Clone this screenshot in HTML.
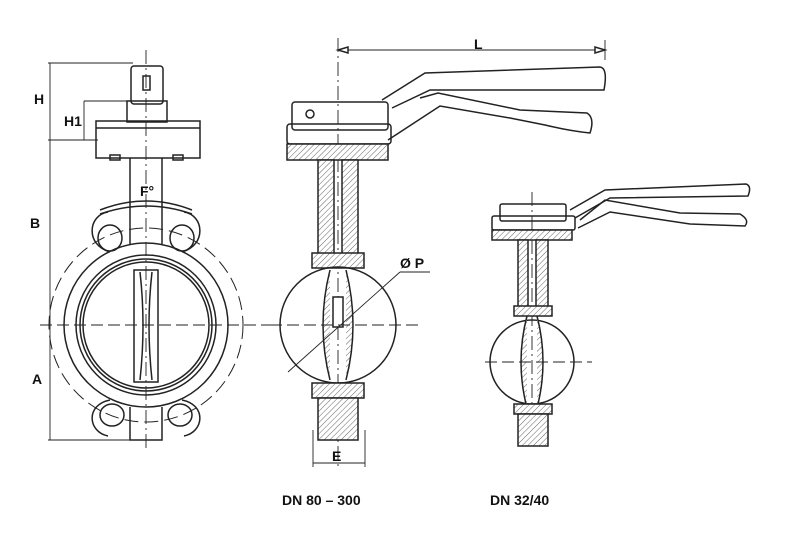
<!DOCTYPE html>
<html><head><meta charset="utf-8"><style>
html,body{margin:0;padding:0;background:#fff;}
svg{display:block;}
text{font-family:"Liberation Sans",sans-serif;font-weight:bold;fill:#111;}
</style></head><body>
<svg width="792" height="533" viewBox="0 0 792 533" xmlns="http://www.w3.org/2000/svg">
<defs>
<pattern id="h" width="4" height="4" patternUnits="userSpaceOnUse" patternTransform="rotate(45)">
<rect width="4" height="4" fill="#fff"/><line x1="0" y1="0" x2="0" y2="4" stroke="#666" stroke-width="1"/>
</pattern>
</defs>
<g fill="none" stroke="#222" stroke-width="1.5">
<!-- LEFT VIEW -->
<line x1="50" y1="63" x2="50" y2="440" stroke-width="0.9"/>
<line x1="48" y1="63" x2="133" y2="63" stroke-width="0.9"/>
<line x1="48" y1="140" x2="98" y2="140" stroke-width="0.9"/>
<line x1="48" y1="440" x2="130" y2="440" stroke-width="0.9"/>
<line x1="84" y1="101" x2="84" y2="140" stroke-width="0.9"/>
<line x1="84" y1="101" x2="128" y2="101" stroke-width="0.9"/>
<line x1="40" y1="325" x2="270" y2="325" stroke-dasharray="12,5" stroke-width="1"/>
<line x1="146" y1="50" x2="146" y2="450" stroke-dasharray="14,4,2,4" stroke-width="0.9"/>
<rect x="131" y="66" width="32" height="38" rx="3"/>
<rect x="143" y="76" width="7" height="14"/>
<rect x="127" y="101" width="40" height="21"/>
<rect x="96" y="121" width="104" height="37"/>
<line x1="96" y1="128" x2="200" y2="128"/>
<rect x="110" y="155" width="10" height="5"/>
<rect x="173" y="155" width="10" height="5"/>
<line x1="130" y1="158" x2="130" y2="245"/>
<line x1="162" y1="158" x2="162" y2="245"/>
<path d="M100,210 Q146,192 192,210"/>
<path d="M100,214 Q146,198 192,214"/>
<path d="M110,252 C85,245 88,215 108,212 M182,252 C207,245 204,215 184,212"/>
<ellipse cx="110" cy="238" rx="12" ry="13"/>
<ellipse cx="182" cy="238" rx="12" ry="13"/>
<circle cx="146" cy="325" r="82"/>
<circle cx="146" cy="325" r="70"/>
<circle cx="146" cy="325" r="66"/>
<circle cx="146" cy="325" r="63"/>
<circle cx="146" cy="325" r="97" stroke-dasharray="14,6" stroke-width="1"/>
<rect x="134" y="270" width="24" height="112"/>
<path d="M140,272 Q146,325 140,380 M152,272 Q146,325 152,380"/>
<path d="M110,400 C85,405 88,432 108,436 M182,400 C207,405 204,432 184,436"/>
<ellipse cx="112" cy="415" rx="12" ry="11"/>
<ellipse cx="180" cy="415" rx="12" ry="11"/>
<path d="M130,407 L130,440 L162,440 L162,407"/>
<!-- MIDDLE VIEW -->
<line x1="338" y1="38" x2="338" y2="470" stroke-dasharray="14,4,2,4" stroke-width="0.9"/>
<line x1="338" y1="50" x2="605" y2="50" stroke-width="0.9"/>
<path d="M338,50 l10,-3 v6 z M605,50 l-10,-3 v6 z" fill="#fff"/>
<line x1="605" y1="40" x2="605" y2="60" stroke-width="0.9"/>
<path d="M382,100 L425,73 L600,67 Q608,68 604,90 L430,90 L392,108"/>
<path d="M420,98 L438,93 L520,110 L587,113 Q595,118 590,133 Q570,131 545,125 L510,118 L440,106 L388,140"/>
<rect x="292" y="102" width="96" height="28" rx="3"/>
<circle cx="310" cy="114" r="4"/>
<rect x="287" y="124" width="104" height="20" rx="3"/>
<rect x="287" y="144" width="101" height="16" fill="url(#h)"/>
<rect x="318" y="160" width="16" height="100" fill="url(#h)"/>
<rect x="342" y="160" width="16" height="100" fill="url(#h)"/>
<rect x="312" y="253" width="52" height="15" fill="url(#h)"/>
<circle cx="338" cy="325" r="58"/>
<path d="M330,270 Q316,325 330,380 M346,270 Q360,325 346,380" fill="url(#h)"/>
<rect x="333" y="297" width="10" height="30" fill="#fff"/>
<line x1="270" y1="325" x2="420" y2="325" stroke-dasharray="12,5" stroke-width="1"/>
<line x1="288" y1="372" x2="400" y2="272" stroke-width="0.9"/>
<line x1="400" y1="272" x2="430" y2="272" stroke-width="0.9"/>
<rect x="312" y="383" width="52" height="15" fill="url(#h)"/>
<rect x="318" y="398" width="40" height="42" fill="url(#h)"/>
<line x1="313" y1="430" x2="313" y2="467" stroke-width="0.9"/>
<line x1="365" y1="430" x2="365" y2="467" stroke-width="0.9"/>
<line x1="313" y1="463" x2="365" y2="463" stroke-width="0.9"/>
<!-- RIGHT VIEW -->
<line x1="532" y1="192" x2="532" y2="450" stroke-dasharray="14,4,2,4" stroke-width="0.9"/>
<path d="M570,210 L605,190 L746,184 Q752,186 748,196 L610,198 L575,218"/>
<path d="M580,220 L605,200 L680,213 L740,214 Q750,220 745,226 L690,224 L610,212 L578,228"/>
<rect x="500" y="204" width="66" height="17" rx="2"/>
<rect x="492" y="216" width="83" height="14" rx="2"/>
<rect x="492" y="230" width="80" height="10" fill="url(#h)"/>
<rect x="518" y="240" width="10" height="70" fill="url(#h)"/>
<rect x="536" y="240" width="12" height="70" fill="url(#h)"/>
<rect x="514" y="306" width="38" height="10" fill="url(#h)"/>
<circle cx="532" cy="362" r="42"/>
<path d="M527,316 Q515,362 527,408 M537,316 Q549,362 537,408" fill="url(#h)"/>
<line x1="485" y1="362" x2="592" y2="362" stroke-dasharray="12,5" stroke-width="1"/>
<rect x="514" y="404" width="38" height="10" fill="url(#h)"/>
<rect x="518" y="414" width="30" height="32" fill="url(#h)"/>
</g>
<text x="34" y="104" font-size="14">H</text>
<text x="64" y="126" font-size="14">H1</text>
<text x="30" y="228" font-size="14">B</text>
<text x="32" y="384" font-size="14">A</text>
<text x="140" y="196" font-size="14">F°</text>
<text x="474" y="49" font-size="14">L</text>
<text x="400" y="268" font-size="14">Ø P</text>
<text x="332" y="461" font-size="14">E</text>
<text x="282" y="505" font-size="14">DN 80 – 300</text>
<text x="490" y="505" font-size="14">DN 32/40</text>
</svg>
</body></html>
